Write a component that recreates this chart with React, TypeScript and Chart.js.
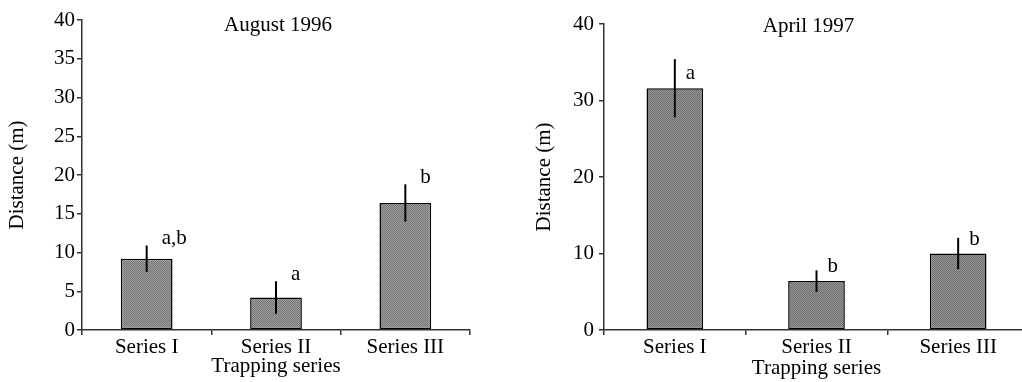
import React, { useEffect, useRef } from 'react';
import { Chart, registerables } from 'chart.js';

Chart.register(...registerables);

// ---- data ----
const categories = ['Series I', 'Series II', 'Series III'];

const augTitle = 'August 1996';
const augMeans = [9.2, 4.2, 16.4];
const augErrors = [1.7, 2.1, 2.4];
const augLetters = ['a,b', 'a', 'b'];
const augTickStep = 5;

const aprTitle = 'April 1997';
const aprMeans = [31.6, 6.4, 10.0];
const aprErrors = [3.8, 1.4, 2.05];
const aprLetters = ['a', 'b', 'b'];
const aprTickStep = 10;

const yAxisTitle = 'Distance (m)';
const xAxisTitle = 'Trapping series';
const yMin = 0;
const yMax = 40;

const SERIF = "'Liberation Serif', 'Times New Roman', Times, serif";
const AXIS_COLOR = '#333333';
const FONT_SIZE = 21;

function makeTexture(ctx: CanvasRenderingContext2D, dark: number, light: number) {
  const c = document.createElement('canvas');
  c.width = 4;
  c.height = 4;
  const g = c.getContext('2d')!;
  for (let yy = 0; yy < 4; yy++) {
    for (let xx = 0; xx < 4; xx++) {
      const v = (xx + yy) % 2 === 0 ? dark : light;
      g.fillStyle = `rgb(${v},${v},${v})`;
      g.fillRect(xx, yy, 1, 1);
    }
  }
  return ctx.createPattern(c, 'repeat') as CanvasPattern;
}

const annotPlugin = {
  id: 'annot',
  afterDatasetsDraw(chart: any, _args: any, opts: any) {
    const ctx: CanvasRenderingContext2D = chart.ctx;
    const meta = chart.getDatasetMeta(0);
    const yScale = chart.scales.y;
    ctx.save();
    meta.data.forEach((bar: any, i: number) => {
      const v = opts.means[i];
      const e = opts.errors[i];
      const x = bar.x;
      const yTop = yScale.getPixelForValue(v + e);
      const yBot = yScale.getPixelForValue(v - e);
      ctx.strokeStyle = '#000';
      ctx.lineWidth = 2;
      ctx.beginPath();
      ctx.moveTo(x, yTop);
      ctx.lineTo(x, yBot);
      ctx.stroke();
      const anchor = opts.letterAnchor === 'bar' ? bar.y : yTop;
      ctx.font = `${FONT_SIZE}px ${SERIF}`;
      ctx.fillStyle = '#000';
      ctx.textAlign = 'left';
      ctx.textBaseline = 'alphabetic';
      ctx.fillText(opts.letters[i], x + opts.letterDx, anchor + opts.letterDy);
    });
    const ca = chart.chartArea;
    ctx.font = `${FONT_SIZE}px ${SERIF}`;
    ctx.fillStyle = '#000';
    ctx.textAlign = 'center';
    ctx.textBaseline = 'alphabetic';
    ctx.fillText(opts.title, (ca.left + ca.right) / 2 + opts.titleDx, opts.titleBaseline);
    ctx.restore();
  },
};

type Cfg = {
  means: number[];
  errors: number[];
  letters: string[];
  title: string;
  step: number;
  yAxisWidth: number;
  pad: { top: number; right: number; bottom: number; left: number };
  yTickPad: number;
  yTitlePad: number;
  xTitlePad: number;
  letterAnchor: 'bar' | 'err';
  letterDx: number;
  letterDy: number;
  titleDx: number;
  titleBaseline: number;
  dark: number;
  light: number;
};

function makeChart(canvas: HTMLCanvasElement, cfg: Cfg) {
  const ctx = canvas.getContext('2d')!;
  const fill = makeTexture(ctx, cfg.dark, cfg.light);
  return new Chart(canvas, {
    type: 'bar',
    data: {
      labels: categories,
      datasets: [
        {
          data: cfg.means,
          backgroundColor: fill as any,
          borderColor: '#000',
          borderWidth: 1.5,
          borderSkipped: false,
          categoryPercentage: 1,
          barPercentage: 0.4,
        },
      ],
    },
    options: {
      responsive: false,
      animation: false,
      devicePixelRatio: 1,
      layout: { padding: cfg.pad },
      plugins: {
        legend: { display: false },
        tooltip: { enabled: false },
        title: { display: false },
        annot: {
          means: cfg.means,
          errors: cfg.errors,
          letters: cfg.letters,
          title: cfg.title,
          letterAnchor: cfg.letterAnchor,
          letterDx: cfg.letterDx,
          letterDy: cfg.letterDy,
          titleDx: cfg.titleDx,
          titleBaseline: cfg.titleBaseline,
        },
      } as any,
      scales: {
        x: {
          type: 'category',
          offset: true,
          grid: {
            display: true,
            offset: true,
            drawOnChartArea: false,
            drawTicks: true,
            tickLength: 5,
            color: AXIS_COLOR,
            lineWidth: 1.5,
          },
          border: { display: true, color: AXIS_COLOR, width: 1.5 },
          ticks: {
            color: '#000',
            font: { family: SERIF, size: FONT_SIZE },
            padding: 0,
            maxRotation: 0,
            autoSkip: false,
          },
          title: {
            display: true,
            text: xAxisTitle,
            color: '#000',
            font: { family: SERIF, size: FONT_SIZE },
            padding: { top: 0, bottom: cfg.xTitlePad },
          },
          afterFit: (s: any) => {
            s.height = 52;
          },
        },
        y: {
          type: 'linear',
          min: yMin,
          max: yMax,
          grid: {
            display: true,
            drawOnChartArea: false,
            drawTicks: true,
            tickLength: 5,
            color: AXIS_COLOR,
            lineWidth: 1.5,
          },
          border: { display: true, color: AXIS_COLOR, width: 1.5 },
          ticks: {
            stepSize: cfg.step,
            color: '#000',
            font: { family: SERIF, size: FONT_SIZE },
            padding: cfg.yTickPad,
          },
          title: {
            display: true,
            text: yAxisTitle,
            color: '#000',
            font: { family: SERIF, size: FONT_SIZE },
            padding: { top: cfg.yTitlePad, bottom: 0 },
          },
          afterFit: (s: any) => {
            s.width = cfg.yAxisWidth;
          },
        },
      },
    },
    plugins: [annotPlugin as any],
  });
}

export default function App() {
  const leftRef = useRef<HTMLCanvasElement>(null);
  const rightRef = useRef<HTMLCanvasElement>(null);

  useEffect(() => {
    const left = makeChart(leftRef.current!, {
      means: augMeans,
      errors: augErrors,
      letters: augLetters,
      title: augTitle,
      step: augTickStep,
      yAxisWidth: 82,
      pad: { top: 20, right: 40, bottom: 0, left: 0 },
      yTickPad: 2,
      yTitlePad: 5,
      xTitlePad: 3,
      letterAnchor: 'err',
      letterDx: 15,
      letterDy: -1.5,
      titleDx: 2,
      titleBaseline: 31,
      dark: 118,
      light: 158,
    });
    const right = makeChart(rightRef.current!, {
      means: aprMeans,
      errors: aprErrors,
      letters: aprLetters,
      title: aprTitle,
      step: aprTickStep,
      yAxisWidth: 94,
      pad: { top: 24, right: 1, bottom: 0, left: 0 },
      yTickPad: 5,
      yTitlePad: 22,
      xTitlePad: 1,
      letterAnchor: 'bar',
      letterDx: 11,
      letterDy: -9,
      titleDx: -8,
      titleBaseline: 32,
      dark: 110,
      light: 150,
    });
    return () => {
      left.destroy();
      right.destroy();
    };
  }, []);

  return (
    <div
      style={{
        position: 'fixed',
        left: 0,
        top: 0,
        width: 1022,
        height: 382,
        overflow: 'hidden',
        background: '#fff',
      }}
    >
      <canvas
        ref={leftRef}
        width={510}
        height={382}
        style={{ position: 'absolute', left: 0, top: 0, width: 510, height: 382 }}
      />
      <canvas
        ref={rightRef}
        width={520}
        height={382}
        style={{ position: 'absolute', left: 510, top: 0, width: 520, height: 382 }}
      />
    </div>
  );
}
